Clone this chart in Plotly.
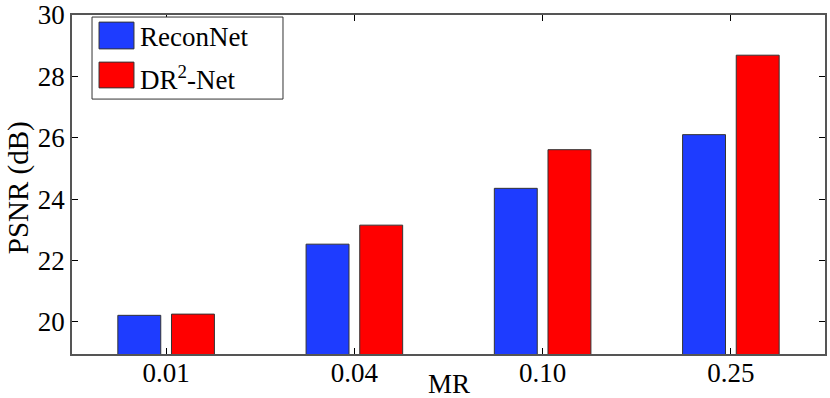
import plotly.graph_objects as go

mr_labels = ["0.01", "0.04", "0.10", "0.25"]
reconnet = [20.21, 22.53, 24.35, 26.10]
dr2net = [20.25, 23.15, 25.61, 28.69]
y_ticks = [20, 22, 24, 26, 28, 30]

blue = "rgb(30,60,255)"
red = "rgb(255,0,0)"
font = "Liberation Serif, Times New Roman, serif"

fig = go.Figure()
fig.add_trace(go.Bar(x=mr_labels, y=reconnet, name="ReconNet",
                     marker=dict(color=blue, line=dict(color="#333", width=1))))
fig.add_trace(go.Bar(x=mr_labels, y=dr2net, name="DR<sup>2</sup>-Net",
                     marker=dict(color=red, line=dict(color="#333", width=1))))

fig.update_layout(
    width=830, height=398,
    margin=dict(l=72, r=5, t=15, b=44),
    plot_bgcolor="white", paper_bgcolor="white",
    barmode="group", bargap=0.43, bargroupgap=0.2,
    showlegend=False,
    font=dict(family=font, size=27, color="black"),
)
fig.update_xaxes(
    range=[-0.5, 3.5], showline=True, linecolor="#555", linewidth=1.5, mirror="ticks",
    ticks="inside", ticklen=6, tickcolor="black", automargin=False,
    ticklabelstandoff=-6,
)
fig.update_yaxes(
    range=[18.95, 30], tickvals=y_ticks, showgrid=False, zeroline=False,
    showline=True, linecolor="#555", linewidth=1.5, mirror="ticks",
    ticks="inside", ticklen=6, tickcolor="black", automargin=False,
)

# axis titles placed by hand so they sit as tight as in the original
fig.add_annotation(xref="paper", yref="paper", x=0.5, y=-0.088, yanchor="middle",
                   text="MR", showarrow=False)
fig.add_annotation(xref="paper", yref="paper", x=-0.07, y=0.49, xanchor="center",
                   text="PSNR (dB)", textangle=-90, showarrow=False, font=dict(size=29))

# hand-drawn legend box with large square swatches, like the original
fig.add_shape(type="rect", xref="paper", yref="paper", x0=0.0266, x1=0.2802, y0=0.752, y1=0.994,
              line=dict(color="#333", width=1), fillcolor="white")
fig.add_shape(type="rect", xref="paper", yref="paper", x0=0.0359, x1=0.0823, y0=0.900, y1=0.979,
              line=dict(color="#333", width=1), fillcolor=blue)
fig.add_shape(type="rect", xref="paper", yref="paper", x0=0.0359, x1=0.0823, y0=0.785, y1=0.861,
              line=dict(color="#333", width=1), fillcolor=red)
fig.add_annotation(xref="paper", yref="paper", x=0.0876, y=0.935, xanchor="left", yanchor="middle",
                   text="ReconNet", showarrow=False)
fig.add_annotation(xref="paper", yref="paper", x=0.0876, y=0.815, xanchor="left", yanchor="middle",
                   text="DR<sup>2</sup>-Net", showarrow=False)

# drop the browser's default body margin so the figure fills the window
fig.write_html("out.html", config={"displayModeBar": False},
               post_script="document.body.style.margin='0';")
